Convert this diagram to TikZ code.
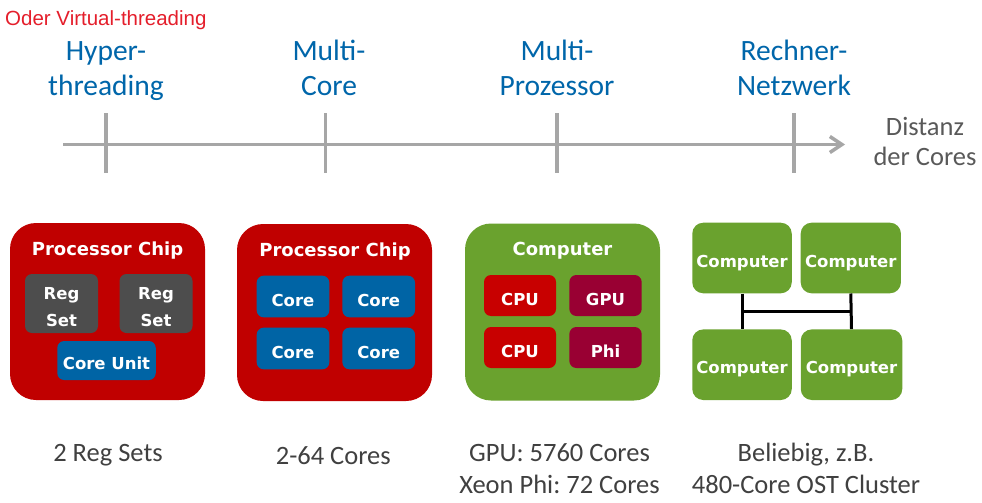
\documentclass[tikz,border=0pt]{standalone}
\usepackage{fontspec}
\setmainfont{Carlito}
\newfontfamily\vfont{DejaVu Sans}
\newfontfamily\afont{Liberation Sans}
\usetikzlibrary{arrows.meta,calc}
\frenchspacing
\definecolor{headblue}{RGB}{0,102,170}
\definecolor{oderred}{RGB}{228,30,43}
\definecolor{axgray}{RGB}{166,166,166}
\definecolor{distgray}{RGB}{89,89,89}
\definecolor{capgray}{RGB}{64,64,64}
\definecolor{chipred}{RGB}{192,0,0}
\definecolor{cpured}{RGB}{200,0,0}
\definecolor{gpumag}{RGB}{153,0,51}
\definecolor{coreblue}{RGB}{0,100,165}
\definecolor{reggray}{RGB}{77,77,77}
\definecolor{compgreen}{RGB}{106,162,46}
\begin{document}
\begin{tikzpicture}[x=1pt,y=-1pt,
  heading/.style={font=\fontsize{29.5}{35}\selectfont, text=headblue, align=center, anchor=base, inner sep=0pt},
  axislbl/.style={font=\fontsize{26.5}{29.5}\selectfont, text=distgray, align=center, anchor=base, inner sep=0pt},
  caption/.style={font=\fontsize{26.5}{31.5}\selectfont, text=capgray, align=center, anchor=base, inner sep=0pt},
  bigbox/.style={rounded corners=26pt, minimum width=195pt, minimum height=177pt, inner sep=0pt},
  boxtitle/.style={font=\vfont\bfseries\fontsize{18}{21}\selectfont, text=white, anchor=base, inner sep=0pt},
  inner/.style={rounded corners=7pt, font=\vfont\bfseries\fontsize{16.5}{27}\selectfont, text=white, inner sep=0pt, align=center, text height=19pt, text depth=0pt},
  twoline/.style={rounded corners=7pt, font=\vfont\bfseries\fontsize{16.5}{27}\selectfont, text=white, inner sep=0pt, align=center, text height=45pt, text depth=0pt},
  axisline/.style={draw=axgray, line width=3.5pt},
  link/.style={draw=black, line width=3pt}
]
\useasboundingbox (0,0) rectangle (982,503);

% top labels
\node[font=\afont\fontsize{20.5}{24}\selectfont, text=oderred, anchor=base west, inner sep=0pt] (oder) at (5,26) {Oder Virtual-threading};
\node[heading] (h1) at (106,95) {Hyper-\\threading};
\node[heading] (h2) at (329,95) {Multi-\\Core};
\node[heading] (h3) at (557,95) {Multi-\\Prozessor};
\node[heading] (h4) at (794,95) {Rechner-\\Netzwerk};
\node[axislbl] (dist) at (925,165) {Distanz\\der Cores};

% axis
\coordinate (ax0) at (63,144.5);
\coordinate (ax1) at (845,144.5);
\draw[axisline, -{Straight Barb[length=12pt,width=16pt]}] (ax0) -- (ax1);
\coordinate (k1t) at (106,113); \coordinate (k1b) at (106,173);
\coordinate (k2t) at (325.5,113); \coordinate (k2b) at (325.5,173);
\coordinate (k3t) at (557,113); \coordinate (k3b) at (557,173);
\coordinate (k4t) at (794,113); \coordinate (k4b) at (794,173);
\draw[axisline] (k1t) -- (k1b);
\draw[axisline] (k2t) -- (k2b);
\draw[axisline] (k3t) -- (k3b);
\draw[axisline] (k4t) -- (k4b);

% box 1: hyperthreading
\node[bigbox, fill=chipred] (chip1) at (107.5,311.5) {};
\node[boxtitle] (t1) at (107.5,255) {Processor Chip};
\node[twoline, fill=reggray, minimum width=73pt, minimum height=59pt] (reg1) at (61.5,303.5) {Reg\\Set};
\node[twoline, fill=reggray, minimum width=73pt, minimum height=59pt] (reg2) at (156,303.5) {Reg\\Set};
\node[inner, fill=coreblue, minimum width=98.5pt, minimum height=39pt, text height=17pt] (cu) at (106.5,360.5) {Core Unit};

% box 2: multicore
\node[bigbox, fill=chipred] (chip2) at (334.5,312.5) {};
\node[boxtitle] (t2) at (335,256) {Processor Chip};
\node[inner, fill=coreblue, minimum width=72.6pt, minimum height=41.6pt] (c1) at (293,296.5) {Core};
\node[inner, fill=coreblue, minimum width=72.6pt, minimum height=41.6pt] (c2) at (378.7,296.5) {Core};
\node[inner, fill=coreblue, minimum width=72.6pt, minimum height=41.6pt] (c3) at (293,348.5) {Core};
\node[inner, fill=coreblue, minimum width=72.6pt, minimum height=41.6pt] (c4) at (378.7,348.5) {Core};

% box 3: multiprocessor
\node[bigbox, fill=compgreen] (comp) at (562.5,312) {};
\node[boxtitle] (t3) at (562.5,255) {Computer};
\node[inner, fill=cpured, minimum width=72pt, minimum height=41pt] (cpu1) at (520,295.5) {CPU};
\node[inner, fill=gpumag, minimum width=72.3pt, minimum height=41pt] (gpu) at (605.5,295.5) {GPU};
\node[inner, fill=cpured, minimum width=72pt, minimum height=41pt] (cpu2) at (520,347.5) {CPU};
\node[inner, fill=gpumag, minimum width=72.3pt, minimum height=41pt] (phi) at (605.5,347.5) {Phi};

% network
\node[inner, rounded corners=11pt, fill=compgreen, minimum width=99.5pt, minimum height=70.6pt, text height=18pt] (n1) at (742,258) {Computer};
\node[inner, rounded corners=11pt, fill=compgreen, minimum width=100.3pt, minimum height=70.6pt, text height=18pt] (n2) at (850.8,258) {Computer};
\node[inner, rounded corners=11pt, fill=compgreen, minimum width=99.5pt, minimum height=70.6pt, text height=18pt] (n3) at (742,364.7) {Computer};
\node[inner, rounded corners=11pt, fill=compgreen, minimum width=101.5pt, minimum height=70.6pt, text height=18pt] (n4) at (851.5,364.7) {Computer};
\draw[link] (n1.south) -- (n3.north);
\draw[link] (n2.south) -- (n4.north);
\draw[link] ($(n1.south)!0.5!(n3.north)$) -- ($(n2.south)!0.5!(n4.north)$);

% captions
\node[caption] (cap1) at (108,461.7) {2 Reg Sets};
\node[caption] (cap2) at (333.3,464) {2-64 Cores};
\node[caption] (cap3) at (559.5,493) {GPU: 5760 Cores\\Xeon Phi: 72 Cores};
\node[caption] (cap4) at (806,493) {Beliebig, z.B.\\480-Core OST Cluster};
\end{tikzpicture}
\end{document}
